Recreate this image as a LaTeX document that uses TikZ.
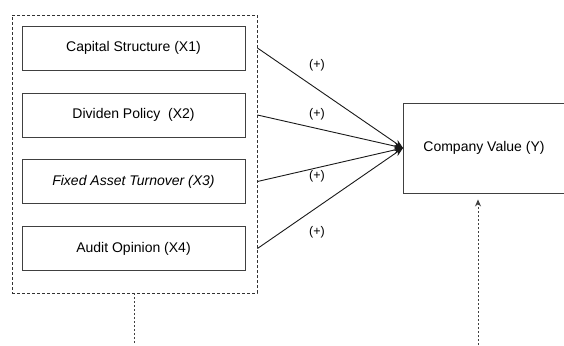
\documentclass[tikz,border=0pt]{standalone}
\usepackage{fontspec}
\setmainfont{Liberation Sans}
\usetikzlibrary{arrows.meta,positioning}

\begin{document}
\begin{tikzpicture}[x=1pt,y=-1pt,
  varbox/.style={draw=black!75,line width=0.9pt,minimum width=223pt,minimum height=44pt,
    inner sep=0pt,font=\fontsize{14}{16}\selectfont},
  groupbox/.style={draw=black!80,line width=0.9pt,dash pattern=on 3pt off 2pt,
    minimum width=245pt,minimum height=278pt,inner sep=0pt},
  effect/.style={draw=black!90,line width=0.9pt,-{Stealth[length=9pt,width=7pt]}},
  signlbl/.style={font=\fontsize{12.5}{14}\selectfont},
  dotline/.style={draw=black!75,line width=0.9pt,dash pattern=on 2pt off 2pt}
]
  \useasboundingbox (0,0) rectangle (564,345);

  \node[groupbox] (group) at (134.5,154) {};
  \node[varbox] (x1) at (133.5,48) {Capital Structure (X1)};
  \node[varbox] (x2) at (133.5,115) {Dividen Policy\ \ (X2)};
  \node[varbox] (x3) at (133.5,181.5) {\itshape Fixed Asset Turnover (X3)};
  \node[varbox] (x4) at (133.5,248.5) {Audit Opinion (X4)};

  \node[varbox,minimum width=161pt,minimum height=90pt] (cv) at (484,148) {Company Value (Y)};

  \draw[effect] (x1 -| group.east) -- (cv.west);
  \draw[effect] (x2 -| group.east) -- (cv.west);
  \draw[effect] (x3 -| group.east) -- (cv.west);
  \draw[effect] (x4 -| group.east) -- (cv.west);

  \node[signlbl] (s1) at (317,65) {(+)};
  \node[signlbl] (s2) at (317,114) {(+)};
  \node[signlbl] (s3) at (317,176) {(+)};
  \node[signlbl] (s4) at (317,232) {(+)};

  \coordinate (lowleft) at (134.5,345);
  \coordinate (lowright) at (478,345);
  \draw[dotline] (group.south) -- (lowleft);
  \draw[dotline,-{Stealth[length=7pt,width=6pt]},shorten >=6pt] (lowright) -- (lowright |- cv.south);
\end{tikzpicture}
\end{document}
